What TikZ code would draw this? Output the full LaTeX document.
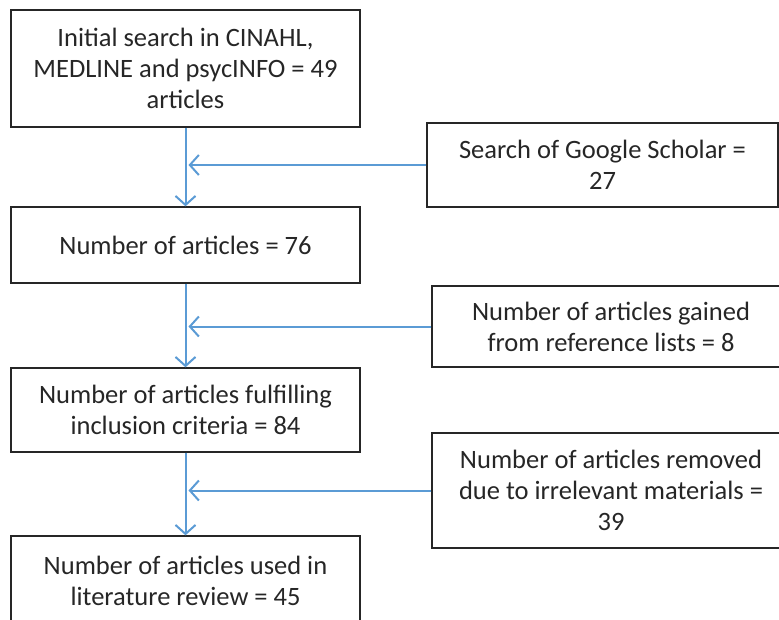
\documentclass[tikz,border=0pt]{standalone}
\usepackage{fontspec}
\setmainfont{Carlito}
\usetikzlibrary{arrows.meta}
\definecolor{arrowblue}{RGB}{91,155,213}
\definecolor{txt}{RGB}{38,38,38}
\begin{document}
\begin{tikzpicture}[x=1pt,y=-1pt,
  box/.style={draw=black!85, line width=1.4pt, rectangle, inner sep=0pt, align=center,
    text=txt, font=\fontsize{26.5}{31}\selectfont},
  flow/.style={draw=arrowblue, line width=2pt, -{Straight Barb[length=9pt,width=20pt,line width=2pt]}}
]
\useasboundingbox[clip] (0,0) rectangle (779,619);
\node[box, minimum width=349pt, minimum height=117pt] (b1) at (185.5,68.5)
  {Initial search in CINAHL,\\MEDLINE and psycINFO = 49\\articles};
\node[box, minimum width=349pt, minimum height=76pt] (b2) at (185.5,245)
  {Number of articles = 76};
\node[box, minimum width=349pt, minimum height=84pt] (b3) at (185.5,410)
  {Number of articles fulfilling\\inclusion criteria = 84};
\node[box, minimum width=349pt, minimum height=90pt] (b4) at (185.5,581)
  {Number of articles used in\\literature review = 45};
\node[box, minimum width=351pt, minimum height=84pt] (r1) at (602.5,165)
  {Search of Google Scholar =\\27};
\node[box, minimum width=358pt, minimum height=81pt] (r2) at (611,326.5)
  {Number of articles gained\\from reference lists = 8};
\node[box, minimum width=358pt, minimum height=115pt] (r3) at (611,490.5)
  {Number of articles removed\\due to irrelevant materials =\\39};
\draw[flow] (b1.south) -- (b2.north);
\draw[flow] (b2.south) -- (b3.north);
\draw[flow] (b3.south) -- (b4.north);
\draw[flow, shorten >=3pt] (r1.west) -- (r1.west -| b1.south);
\draw[flow, shorten >=3pt] (r2.west) -- (r2.west -| b1.south);
\draw[flow, shorten >=3pt] (r3.west) -- (r3.west -| b1.south);
\end{tikzpicture}
\end{document}
